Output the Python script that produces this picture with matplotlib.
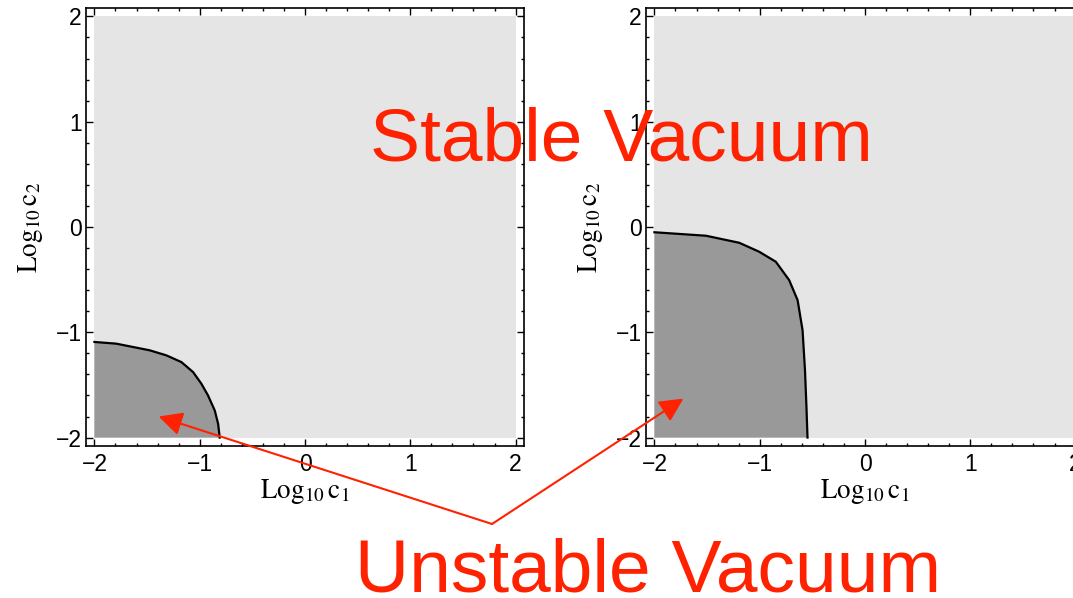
import numpy as np
import matplotlib
matplotlib.use('Agg')
import matplotlib.pyplot as plt
from matplotlib.ticker import MultipleLocator

# Date
# granița regiunii instabile, panoul stâng (log10 c1, log10 c2)
c1_left = [-2.0, -1.793, -1.476, -1.317, -1.174, -1.063, -0.984, -0.921, -0.857, -0.825, -0.81]
c2_left = [-1.092, -1.108, -1.171, -1.219, -1.283, -1.378, -1.489, -1.6, -1.743, -1.87, -2.0]

# granița regiunii instabile, panoul drept
c1_right = [-2.0, -1.51, -1.194, -1.005, -0.847, -0.72, -0.64, -0.593, -0.57, -0.556, -0.546]
c2_right = [-0.05, -0.083, -0.15, -0.235, -0.33, -0.505, -0.695, -0.98, -1.36, -1.71, -2.0]

# vârfurile săgeților (în coordonatele fiecărui panou)
arrow_left = (-1.39, -1.80)
arrow_right = (-1.725, -1.63)

tick_vals = [-2, -1, 0, 1, 2]

red = '#ff2200'
light = '#e5e5e5'
dark = '#999999'

plt.rcParams['mathtext.fontset'] = 'stix'

W, H = 1073, 598
fig = plt.figure(figsize=(W / 100, H / 100), dpi=100)

lim = 2.08
axw = 438 / W
axh = 438 / H
ax1 = fig.add_axes([86 / W, (H - 446) / H, axw, axh])
ax2 = fig.add_axes([646 / W, (H - 446) / H, axw, axh])


def panel(ax, cx, cy):
    ax.fill([-2, 2, 2, -2], [-2, -2, 2, 2], color=light, lw=0, zorder=1)
    ax.fill(list(cx) + [-2], list(cy) + [-2], color=dark, lw=0, zorder=2)
    ax.plot(cx, cy, color='black', lw=1.6, zorder=3, solid_joinstyle='round')
    ax.set_xlim(-lim, lim)
    ax.set_ylim(-lim, lim)
    ax.set_xticks(tick_vals)
    ax.set_yticks(tick_vals)
    ax.xaxis.set_minor_locator(MultipleLocator(0.2))
    ax.yaxis.set_minor_locator(MultipleLocator(0.2))
    ax.tick_params(which='both', direction='in', top=True, right=True, width=1)
    ax.tick_params(which='major', length=5)
    ax.tick_params(which='minor', length=2.5)
    ax.tick_params(axis='x', pad=5)
    ax.tick_params(axis='y', pad=3)
    for lab in ax.get_xticklabels() + ax.get_yticklabels():
        lab.set_fontfamily('Liberation Sans')
        lab.set_fontsize(16.5)
    for s in ax.spines.values():
        s.set_linewidth(1.2)
    ax.set_xlabel(r'$\mathrm{Log}_{10}\,\mathrm{c}_{1}$', fontsize=19.5, labelpad=1)
    ax.set_ylabel(r'$\mathrm{Log}_{10}\,\mathrm{c}_{2}$', fontsize=19.5, labelpad=8)


panel(ax1, c1_left, c2_left)
panel(ax2, c1_right, c2_right)

# Săgeți
start = (492 / W, 1 - 524 / H)
for ax, tip in [(ax1, arrow_left), (ax2, arrow_right)]:
    ax.annotate('', xy=tip, xycoords='data', xytext=start, textcoords='figure fraction',
                arrowprops=dict(arrowstyle='-|>', color=red, lw=1.5, mutation_scale=36,
                                shrinkA=0, shrinkB=0),
                annotation_clip=False, zorder=5)

# Texte
fig.text(370 / W, 1 - 161 / H, 'Stable Vacuum', color=red, fontsize=54,
         family='Liberation Sans', ha='left', va='baseline')
fig.text(355 / W, 1 - 592 / H, 'Unstable Vacuum', color=red, fontsize=54,
         family='Liberation Sans', ha='left', va='baseline')

fig.savefig('out.png', dpi=100)
